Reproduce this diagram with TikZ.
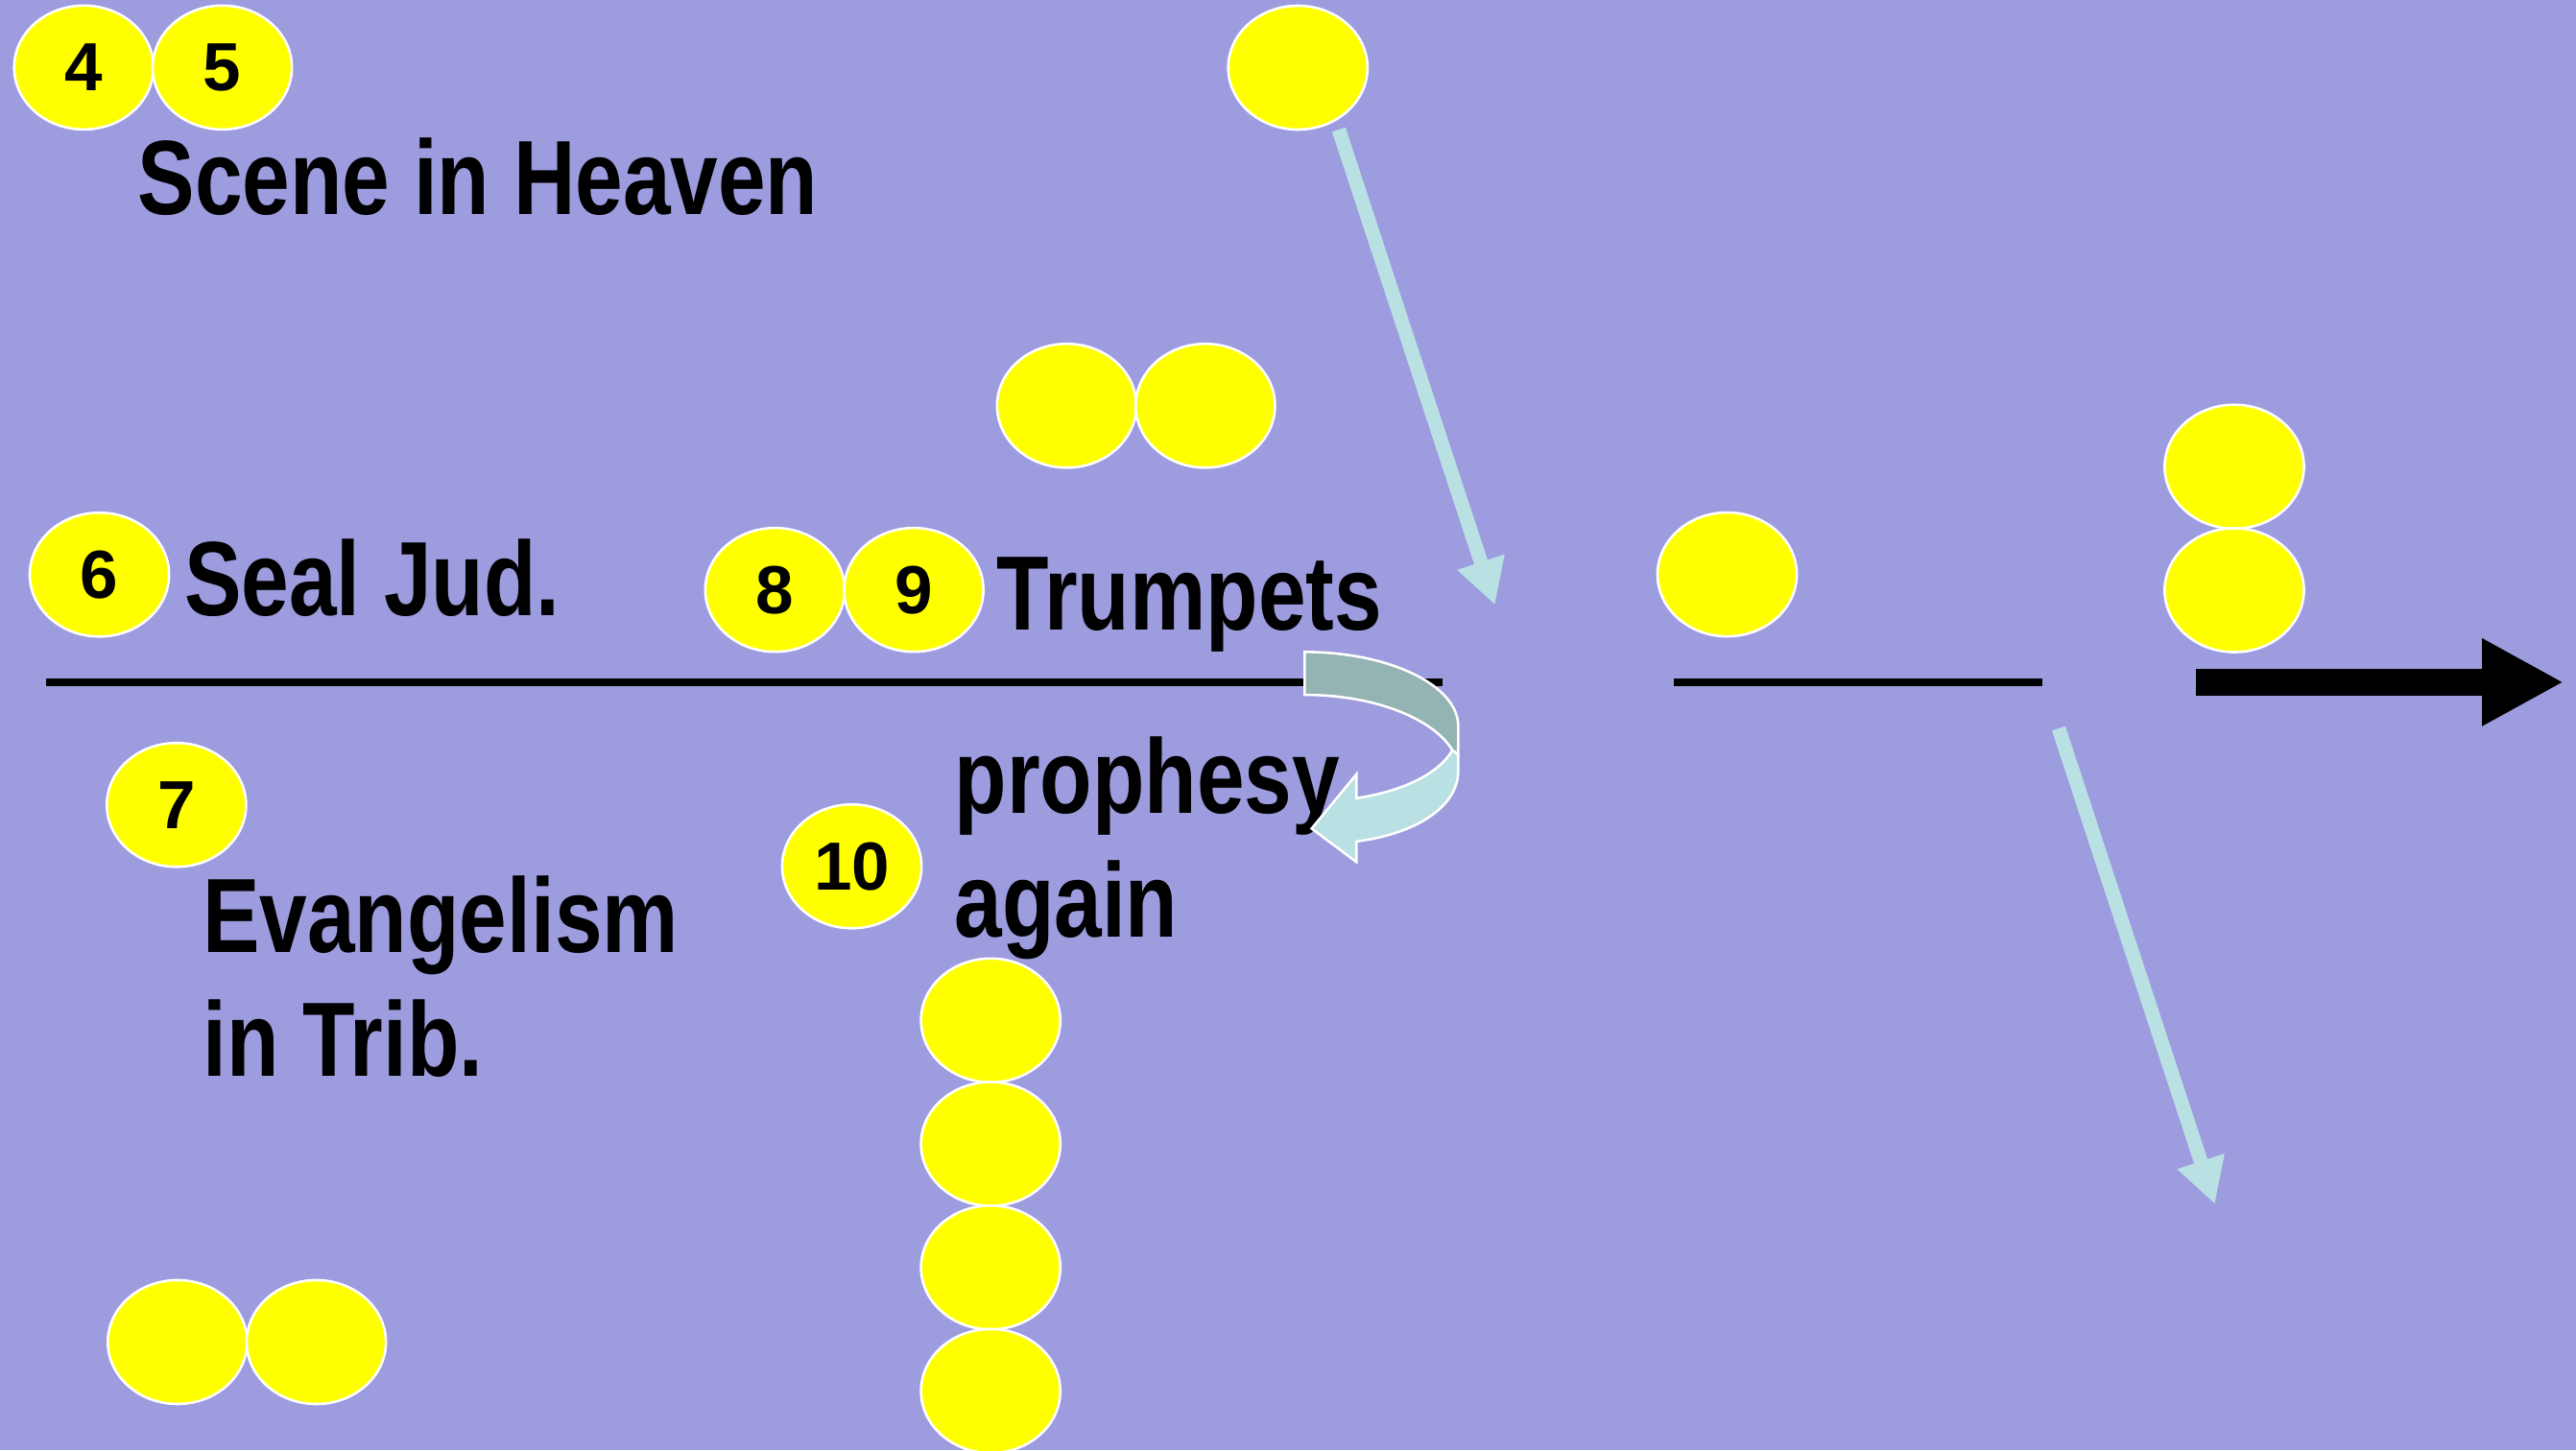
\documentclass[tikz,border=0pt]{standalone}
\usepackage{fontspec}
\setmainfont{Liberation Sans}
\newfontfamily\narrowfont[FakeStretch=0.81]{Liberation Sans}
\usepackage{xcolor}
\usetikzlibrary{shapes.geometric,arrows.meta}
\definecolor{slide}{RGB}{157,156,222}
\definecolor{pale}{RGB}{185,224,227}
\definecolor{shade}{RGB}{148,179,179}
\definecolor{sun}{RGB}{255,255,0}

\begin{document}
\begin{tikzpicture}[x=0.1mm, y=-0.1mm,
    blob/.style={ellipse, fill=sun, draw=white, line width=0.15mm,
        minimum width=8.48mm, minimum height=7.54mm, inner sep=0pt,
        font=\bfseries\fontsize{11.8pt}{14pt}\selectfont},
    heading/.style={anchor=base west, inner sep=0pt, align=left,
        font=\narrowfont\bfseries\fontsize{18.3pt}{21.5pt}\selectfont},
    rule/.style={line width=0.45mm},
    pointer/.style={pale, line width=0.86mm, -{Triangle[length=2.75mm, width=2.83mm]}},
    turn/.style={draw=white, line width=0.15mm}]
    % Setup
    \fill[slide] (0,0) rectangle (1568,883);
    \useasboundingbox (0,0) rectangle (1568,883);

    % Time line
    \coordinate (l1a) at (28,415.4);
    \coordinate (l1b) at (878,415.4);
    \coordinate (l2a) at (1019,415.4);
    \coordinate (l2b) at (1243,415.4);
    \draw[rule] (l1a) -- (l1b);
    \draw[rule] (l2a) -- (l2b);

    % Big arrow on the right
    \coordinate (go1) at (1336.7,415.3);
    \coordinate (go2) at (1560.5,415.3);
    \draw[line width=1.67mm, -{Triangle[length=4.97mm, width=4.97mm]}] (go1) -- (go2);

    % Numbered circles
    \node[blob] (c4) at (51,41.1) {4};
    \node[blob] (c5) at (135.3,41.1) {5};
    \node[blob] (c6) at (60.5,349.8) {6};
    \node[blob] (c7) at (107.4,490) {7};
    \node[blob] (c8) at (471.7,359.1) {8};
    \node[blob] (c9) at (556.2,359.1) {9};
    \node[blob] (c10) at (518.5,527.4) {10};

    % Empty circles
    \node[blob] (top) at (790,41.2) {};
    \node[blob] (midA) at (649.3,247) {};
    \node[blob] (midB) at (733.7,247) {};
    \node[blob] (right) at (1051.3,349.7) {};
    \node[blob] (stackA) at (1360,284.1) {};
    \node[blob] (stackB) at (1360,359.3) {};
    \node[blob] (lowA) at (108,817) {};
    \node[blob] (lowB) at (192.5,817) {};
    \foreach \i/\y in {1/621.2, 2/696.4, 3/771.6, 4/846.8} {
        \node[blob] (col\i) at (603,\y) {};
    }

    % Labels (two-line ones sit on their last baseline)
    \node[heading] (heaven) at (83.2,130.5) {Scene in Heaven};
    \node[heading] (seal) at (111.5,374.9) {Seal Jud.};
    \node[heading] (trump) at (606,383.6) {Trumpets};
    \node[heading] (evang) at (122.7,655.3) {Evangelism\\in Trib.};
    \node[heading] (proph) at (580.3,570.6) {prophesy\\again};

    % Slanted arrows
    \coordinate (p1s) at (814.9,78.9);
    \coordinate (p1e) at (910,368.3);
    \coordinate (p2s) at (1253.1,443.4);
    \coordinate (p2e) at (1348.2,733.1);
    \draw[pointer] (p1s) -- (p1e);
    \draw[pointer] (p2s) -- (p2e);

    % U-turn arrow
    \filldraw[turn, fill=shade] (794.1,396.9) .. controls (845.6,396.9) and (887.6,417.2) .. (887.6,442)
        -- (887.6,459.6) -- (884.1,456.7) .. controls (872,437) and (836,423) .. (794.1,423) -- cycle;
    \filldraw[turn, fill=pale] (884.1,456.7) -- (887.6,459.6) -- (887.6,469.3)
        .. controls (887.6,492) and (860,508) .. (825.7,512.2) -- (825.7,524.8) -- (798.4,504.4)
        -- (825.7,471.3) -- (825.7,485.9) .. controls (852,482) and (875,472) .. (884.1,456.7) -- cycle;
\end{tikzpicture}
\end{document}
